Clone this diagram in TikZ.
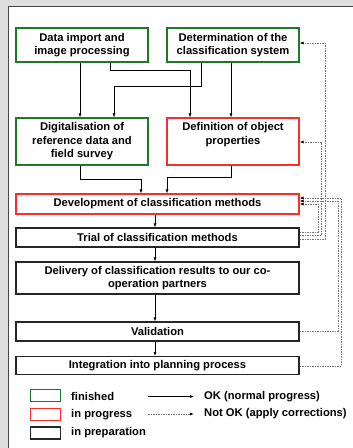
\documentclass[tikz,border=0pt]{standalone}
\usepackage{fontspec}
\setmainfont{Liberation Sans}
\usetikzlibrary{arrows.meta}
\definecolor{fin}{RGB}{30,120,40}
\definecolor{prog}{RGB}{250,45,45}
\definecolor{bgc}{RGB}{222,222,222}
\definecolor{framec}{RGB}{70,70,70}
\begin{document}
\begin{tikzpicture}[x=1pt,y=-1pt,
  box/.style={draw, line width=1.1pt, align=center, font=\fontsize{11.2}{13.5}\selectfont\bfseries, inner sep=0pt, anchor=center},
  done/.style={box, draw=fin},
  wip/.style={box, draw=prog},
  prep/.style={box, draw=black!85},
  lbl/.style={anchor=west, inner sep=0pt, font=\fontsize{11.2}{13.5}\selectfont\bfseries},
  ok/.style={line width=0.6pt, -{Latex[length=4pt,width=3pt]}},
  nok/.style={line width=0.9pt, draw=black!55, dash pattern=on 1.6pt off 0.9pt, -{Latex[length=4pt,width=3pt,color=black]}}
]
\clip (0,0) rectangle (353,448);
\useasboundingbox (0,0) rectangle (353,448);
\fill[bgc] (0,0) rectangle (353,448);
\draw[framec, line width=1pt, fill=white] (8,6) rectangle (362,458);

\node[done, minimum width=132pt, minimum height=34pt] (b1) at (82,45) {Data import and\\image processing};
\node[done, minimum width=132pt, minimum height=34pt] (b2) at (233,45) {Determination of the\\classification system};
\node[done, minimum width=132pt, minimum height=47pt] (b3) at (82,141.5) {Digitalisation of\\reference data and\\field survey};
\node[wip, minimum width=132pt, minimum height=47pt] (b4) at (233,141.5) {Definition of object\\properties\\\phantom{p}};
\node[wip, minimum width=283pt, minimum height=20pt] (b5) at (157.5,204) {Development of classification methods};
\node[prep, minimum width=283pt, minimum height=19pt] (b6) at (157.5,237.5) {Trial of classification methods};
\node[prep, minimum width=283pt, minimum height=32pt] (b7) at (157.5,278) {Delivery of classification results to our co-\\operation partners};
\node[prep, minimum width=283pt, minimum height=19pt] (b8) at (157.5,331.5) {Validation};
\node[prep, minimum width=283pt, minimum height=18pt] (b9) at (157.5,365.5) {Integration into planning process};

% normal progress
\draw[ok] (b1.south -| 80,0) -- (b3.north -| 80,0);
\draw[ok] (b1.south -| 110,0) |- (190,70) -- (b4.north -| 190,0);
\draw[ok] (b2.south -| 201.5,0) |- (114,86) -- (b3.north -| 114,0);
\draw[ok] (b2.south -| 231,0) -- (b4.north -| 231,0);
\draw[ok] (b3.south -| 80,0) |- (141,179) -- (b5.north -| 141,0);
\draw[ok] (b4.south -| 231,0) |- (167,177) -- (b5.north -| 167,0);
\draw[ok] (b5.south -| 155,0) -- (b6.north -| 155,0);
\draw[ok] (b6.south -| 155,0) -- (b7.north -| 155,0);
\draw[ok] (b7.south -| 155,0) -- (b8.north -| 155,0);
\draw[ok] (b8.south -| 155,0) -- (b9.north -| 155,0);

% corrections
\draw[nok] (b6.east |- 0,232) -| (318,204) -- (b5.east |- 0,204);
\draw[nok] (b6.east |- 0,235.5) -| (321.5,142) -- (b4.east |- 0,142);
\draw[nok] (b6.east |- 0,239) -| (325,43) -- (b2.east |- 0,43);
\draw[nok] (b8.east |- 0,331) -| (338,201) -- (b5.east |- 0,201);
\draw[nok] (b9.east |- 0,366) -| (341.5,198) -- (b5.east |- 0,198);

% legend
\node[done, minimum width=30pt, minimum height=12pt] (l1) at (45.5,395.5) {};
\node[wip, minimum width=30pt, minimum height=12pt] (l2) at (45.5,414.5) {};
\node[prep, minimum width=30pt, minimum height=12pt] (l3) at (45.5,433) {};
\node[lbl] (t1) at (71,396.5) {finished};
\node[lbl] (t2) at (71,414.5) {in progress};
\node[lbl] (t3) at (71,433) {in preparation};
\coordinate (a1s) at (148,396.5);
\coordinate (a1e) at (194,396.5);
\coordinate (a2s) at (148,414);
\coordinate (a2e) at (194,414);
\draw[ok] (a1s) -- (a1e);
\draw[nok] (a2s) -- (a2e);
\node[lbl] (t4) at (204,396.5) {OK (normal progress)};
\node[lbl] (t5) at (204,414) {Not OK (apply corrections)};
\end{tikzpicture}
\end{document}
